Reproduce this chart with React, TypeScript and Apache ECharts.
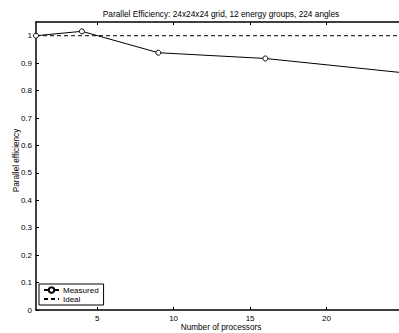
import React, { useEffect, useRef } from "react";
import * as echarts from "echarts";

const processors = [1, 4, 9, 16, 25];
const measured = [1.0, 1.016, 0.938, 0.917, 0.865];
const idealX = [1, 25];
const idealY = [1, 1];
const xTicks = [5, 10, 15, 20, 25];
const yTicks = [0, 0.1, 0.2, 0.3, 0.4, 0.5, 0.6, 0.7, 0.8, 0.9, 1];
const title = "Parallel Efficiency: 24x24x24 grid, 12 energy groups, 224 angles";
const xName = "Number of processors";
const yName = "Parallel efficiency";

const FONT = "Liberation Sans, Arial, sans-serif";

export default function App() {
  const ref = useRef<HTMLDivElement>(null);
  useEffect(() => {
    const chart = echarts.init(ref.current!, null, { renderer: "svg" });
    const axisCommon = {
      type: "value" as const,
      axisLine: { show: true, onZero: false, lineStyle: { color: "#000", width: 1.5 } },
      splitLine: { show: false },
    };
    chart.setOption({
      animation: false,
      backgroundColor: "#fff",
      textStyle: { fontFamily: FONT },
      graphic: [
        {
          type: "text",
          x: 221,
          y: 14,
          style: { text: title, fontSize: 8.3, fontFamily: FONT, fill: "#000", textAlign: "center", textVerticalAlign: "middle" },
        },
        {
          type: "text",
          x: 221,
          y: 327,
          style: { text: xName, fontSize: 8.2, fontFamily: FONT, fill: "#000", textAlign: "center", textVerticalAlign: "middle" },
        },
        {
          type: "text",
          x: 16,
          y: 160.5,
          rotation: Math.PI / 2,
          style: { text: yName, fontSize: 8.2, fontFamily: FONT, fill: "#000", textAlign: "center", textVerticalAlign: "middle" },
        },
      ],
      grid: { left: 36, top: 22, width: 367, height: 288, show: false, outerBoundsMode: "none", containLabel: false },
      legend: {
        left: 39,
        top: 284,
        orient: "vertical",
        itemWidth: 15,
        itemHeight: 7,
        itemGap: 1,
        padding: [2, 5, 2, 4],
        borderColor: "#000",
        borderWidth: 1,
        backgroundColor: "#fff",
        textStyle: { fontSize: 8, color: "#000", fontFamily: FONT, padding: [0, 0, 0, -1] },
        data: [
          { name: "Measured" },
          { name: "Ideal", itemStyle: { opacity: 0, color: "transparent", borderWidth: 0 } },
        ],
      },
      xAxis: [
        {
          ...axisCommon,
          min: 1,
          max: 25,
          position: "bottom",
          axisTick: { inside: true, length: 3, customValues: xTicks, lineStyle: { color: "#000" } },
          axisLabel: { customValues: xTicks, fontSize: 8, color: "#000", margin: 4, fontFamily: FONT },
        },
        {
          ...axisCommon,
          min: 1,
          max: 25,
          position: "top",
          axisTick: { inside: true, length: 3, customValues: xTicks, lineStyle: { color: "#000" } },
          axisLabel: { show: false },
        },
      ],
      yAxis: [
        {
          ...axisCommon,
          min: 0,
          max: 1.05,
          position: "left",
          axisTick: { inside: true, length: 3, customValues: yTicks, lineStyle: { color: "#000" } },
          axisLabel: { customValues: yTicks, fontSize: 8, color: "#000", margin: 4, fontFamily: FONT },
        },
        {
          ...axisCommon,
          min: 0,
          max: 1.05,
          position: "right",
          axisTick: { inside: true, length: 3, customValues: yTicks, lineStyle: { color: "#000" } },
          axisLabel: { show: false },
        },
      ],
      series: [
        {
          name: "Measured",
          type: "line",
          data: processors.map((p, i) => [p, measured[i]]),
          symbol: "circle",
          symbolSize: 5,
          showAllSymbol: true,
          itemStyle: { color: "#fff", borderColor: "#000", borderWidth: 1 },
          lineStyle: { color: "#000", width: 1 },
          z: 3,
        },
        {
          name: "Ideal",
          type: "line",
          data: idealX.map((x, i) => [x, idealY[i]]),
          symbol: "none",
          itemStyle: { color: "#000" },
          lineStyle: { color: "#000", width: 1, type: [4, 3] },
          z: 2,
        },
      ],
    });
    return () => chart.dispose();
  }, []);
  return (
    <div style={{ position: "fixed", left: 0, top: 0, width: 399, height: 333, overflow: "hidden" }}>
      <div ref={ref} style={{ width: 405, height: 333 }} />
    </div>
  );
}
